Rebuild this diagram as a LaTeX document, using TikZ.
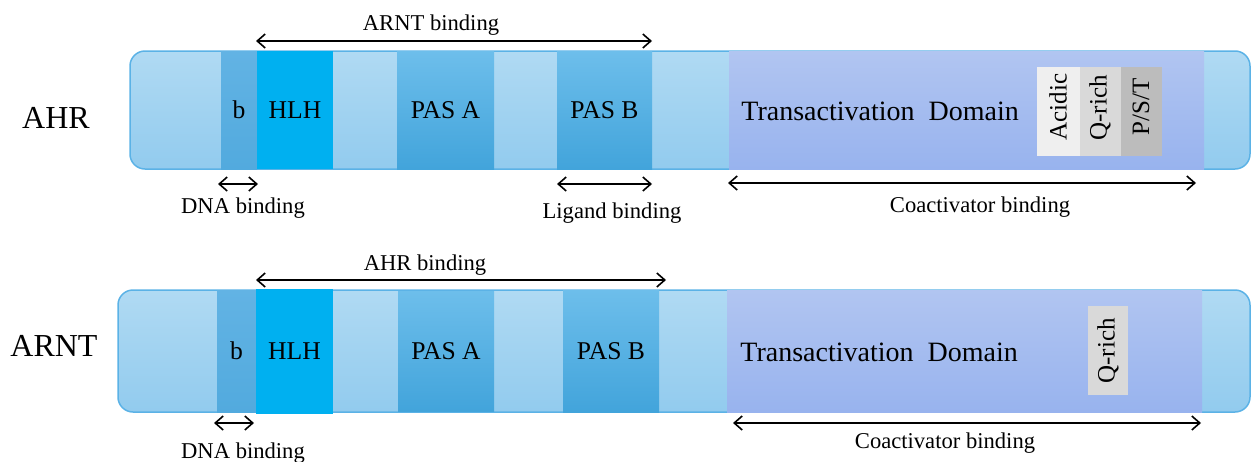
\documentclass[tikz,border=0pt]{standalone}
\usepackage{fontspec}
\setmainfont{Liberation Serif}
\newfontfamily\tnr{Liberation Serif}
\usetikzlibrary{arrows.meta}
\definecolor{barlight}{HTML}{B0DAF3}
\definecolor{barlightb}{HTML}{92CBEE}
\definecolor{barline}{HTML}{5BB2E6}
\definecolor{bsegt}{HTML}{62B3E4}
\definecolor{bsegb}{HTML}{52AADE}
\definecolor{hlh}{HTML}{00B0F0}
\definecolor{pastop}{HTML}{6DBEEB}
\definecolor{pasbot}{HTML}{42A4DB}
\definecolor{tadtop}{HTML}{B1C5F1}
\definecolor{tadbot}{HTML}{98B3EE}
\definecolor{acid}{HTML}{EFEFEF}
\definecolor{qrich}{HTML}{D9D9D9}
\definecolor{pst}{HTML}{BCBCBC}
\begin{document}
\begin{tikzpicture}[x=0.5pt,y=-0.5pt,
  seg/.style n args={2}{anchor=north west, inner sep=0pt, outer sep=0pt,
     minimum width=#1*0.5pt, minimum height=#2*0.5pt,
     font=\tnr\fontsize{12.8}{15}\selectfont},
  bar/.style n args={2}{anchor=north west, inner sep=0pt, outer sep=0pt,
     minimum width=#1*0.5pt, minimum height=#2*0.5pt,
     draw=barline, line width=0.75pt, rounded corners=7.5pt,
     top color=barlight, bottom color=barlightb},
  bseg/.style={top color=bsegt, bottom color=bsegb},
  hseg/.style={fill=hlh},
  pseg/.style={top color=pastop, bottom color=pasbot},
  tseg/.style={top color=tadtop, bottom color=tadbot},
  sub/.style={font=\tnr\fontsize{12.5}{15}\selectfont, rotate=90, inner sep=0pt},
  protname/.style={font=\tnr\fontsize{16}{19}\selectfont, inner sep=0pt},
  tad/.style={font=\tnr\fontsize{14}{17}\selectfont, anchor=west, inner sep=0pt},
  lab/.style={font=\tnr\fontsize{11.3}{13}\selectfont, inner sep=0pt},
  dim/.style={line width=0.8pt, {Straight Barb[length=4pt,width=7pt]}-{Straight Barb[length=4pt,width=7pt]}}
]
\useasboundingbox (0,0) rectangle (1253,461);

% ---------------- AHR ----------------
\node[protname] (ahrname) at (56,117.5) {AHR};
\node[bar={1120}{118}] (ahrbar) at (130,51) {};
\node[seg={36}{118}, bseg] (ahrb) at (221,51) {b};
\node[seg={76}{118}, hseg] (ahrhlh) at (257,51) {HLH};
\node[seg={97}{118}, pseg] (ahrpasa) at (397,51) {PAS A};
\node[seg={95}{118}, pseg] (ahrpasb) at (557,51) {PAS B};
\node[seg={475}{118}, tseg] (ahrtad) at (729,51) {};
\node[tad] (ahrtadtxt) at (741,111) {Transactivation\ \ Domain};
\node[seg={43}{89}, fill=acid] (ahracid) at (1037,67) {};
\node[seg={41}{89}, fill=qrich] (ahrq) at (1080,67) {};
\node[seg={41}{89}, fill=pst] (ahrpst) at (1121,67) {};
\node[sub] (ahracidtxt) at (1058,107) {Acidic};
\node[sub] (ahrqtxt) at (1100,108) {Q-rich};
\node[sub] (ahrpsttxt) at (1141,107) {P/S/T};

\coordinate (arntbL) at (256,41);
\coordinate (arntbR) at (652,41);
\draw[dim] (arntbL) -- (arntbR);
\node[lab] (arntbtxt) at (431,25) {ARNT binding};

\coordinate (dnaL) at (218,184);
\coordinate (dnaR) at (258,184);
\draw[dim] (dnaL) -- (dnaR);
\node[lab] (dnatxt) at (243,208) {DNA binding};

\coordinate (ligL) at (557,184);
\coordinate (ligR) at (652,184);
\draw[dim] (ligL) -- (ligR);
\node[lab] (ligtxt) at (612,213) {Ligand binding};

\coordinate (coaL) at (728,183);
\coordinate (coaR) at (1196,183);
\draw[dim] (coaL) -- (coaR);
\node[lab] (coatxt) at (980,207) {Coactivator binding};

% ---------------- ARNT ----------------
\node[protname] (arntname) at (54,346) {ARNT};
\node[bar={1132}{122}] (arntbar) at (118,290) {};
\node[seg={39}{122}, bseg] (arntb) at (217,290) {b};
\node[seg={77}{125}, hseg] (arnthlh) at (256,289) {HLH};
\node[seg={96}{120}, pseg] (arntpasa) at (398,291) {PAS A};
\node[seg={96}{122}, pseg] (arntpasb) at (563,290) {PAS B};
\node[seg={475}{122}, tseg] (arnttad) at (727,290) {};
\node[tad] (arnttadtxt) at (740,352) {Transactivation\ \ Domain};
\node[seg={40}{89}, fill=qrich] (arntq) at (1088,306) {};
\node[sub] (arntqtxt) at (1108,351) {Q-rich};

\coordinate (ahrbL) at (256,280);
\coordinate (ahrbR) at (666,280);
\draw[dim] (ahrbL) -- (ahrbR);
\node[lab] (ahrbtxt) at (425,265) {AHR binding};

\coordinate (dna2L) at (214,423);
\coordinate (dna2R) at (254,423);
\draw[dim] (dna2L) -- (dna2R);
\node[lab] (dna2txt) at (243,453) {DNA binding};

\coordinate (coa2L) at (733,423);
\coordinate (coa2R) at (1201,423);
\draw[dim] (coa2L) -- (coa2R);
\node[lab] (coa2txt) at (945,443) {Coactivator binding};
\end{tikzpicture}
\end{document}
